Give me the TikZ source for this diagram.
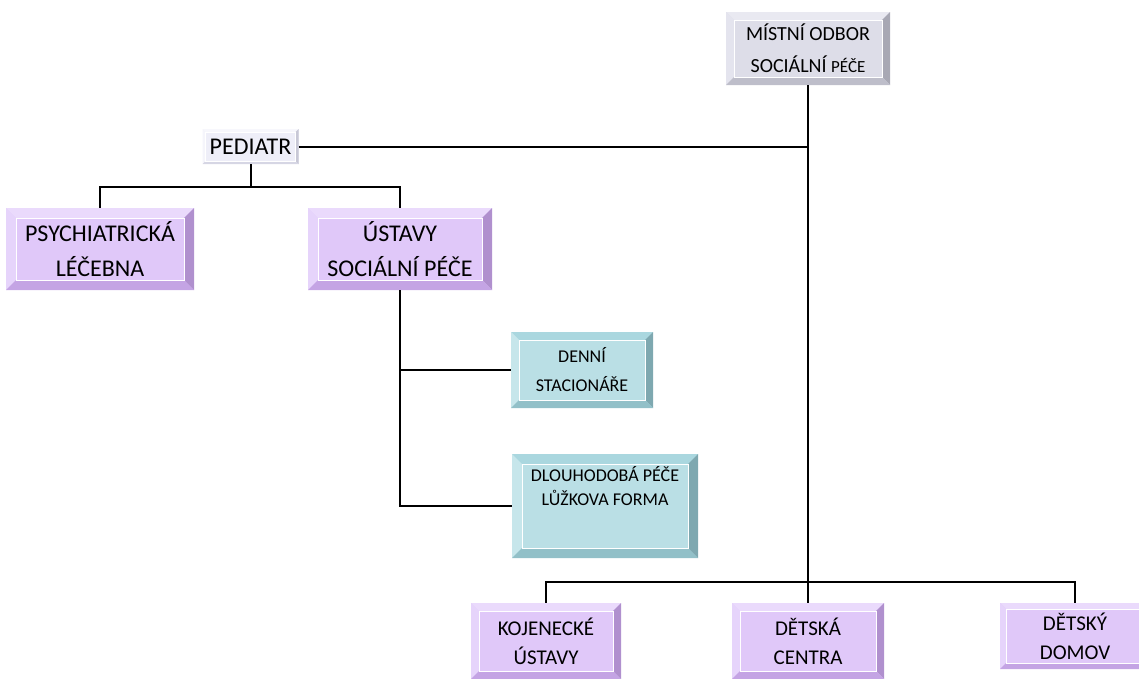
\documentclass[tikz,border=0pt]{standalone}
\usepackage{fontspec}
\setmainfont{Carlito}
\usetikzlibrary{positioning}
\definecolor{lilFace}{RGB}{224,200,249}
\definecolor{lilTop}{RGB}{234,218,252}
\definecolor{lilLeft}{RGB}{230,212,251}
\definecolor{lilRight}{RGB}{176,144,206}
\definecolor{lilBot}{RGB}{196,164,228}
\definecolor{aquaFace}{RGB}{186,223,229}
\definecolor{aquaTop}{RGB}{170,215,223}
\definecolor{aquaLeft}{RGB}{198,230,235}
\definecolor{aquaRight}{RGB}{126,168,176}
\definecolor{aquaBot}{RGB}{146,192,200}
\definecolor{greyFace}{RGB}{221,221,232}
\definecolor{greyTop}{RGB}{233,233,241}
\definecolor{greyLeft}{RGB}{228,228,238}
\definecolor{greyRight}{RGB}{168,168,180}
\definecolor{greyBot}{RGB}{190,190,202}
\definecolor{paleFace}{RGB}{238,238,248}
\definecolor{paleTop}{RGB}{247,247,252}
\definecolor{paleLeft}{RGB}{245,245,251}
\definecolor{paleRight}{RGB}{200,200,214}
\definecolor{paleBot}{RGB}{214,214,228}
\newcommand{\bigtxt}{\fontsize{24}{35}\selectfont}
\newcommand{\midtxt}{\fontsize{20}{32}\selectfont}
\newcommand{\lowtxt}{\fontsize{21}{29}\selectfont}
\newcommand{\smalltxt}{\fontsize{18}{29}\selectfont}
\tikzset{
  bevel width/.store in=\bevw, bevel width=8pt,
  bevel colors/.store in=\bevc, bevel colors=lil,
  bevelbox/.style={rectangle, inner sep=0pt, align=center, fill=#1Face,
    bevel colors=#1,
    path picture={
      \path (path picture bounding box.north west) coordinate (bnw)
            (path picture bounding box.north east) coordinate (bne)
            (path picture bounding box.south east) coordinate (bse)
            (path picture bounding box.south west) coordinate (bsw);
      \path ([shift={(\bevw,-\bevw)}]bnw) coordinate (inw)
            ([shift={(-\bevw,-\bevw)}]bne) coordinate (ine)
            ([shift={(-\bevw,\bevw)}]bse) coordinate (ise)
            ([shift={(\bevw,\bevw)}]bsw) coordinate (isw);
      \fill[fill=\bevc Top] (bnw) -- (bne) -- (ine) -- (inw) -- cycle;
      \fill[fill=\bevc Left] (bnw) -- (inw) -- (isw) -- (bsw) -- cycle;
      \fill[fill=\bevc Right] (bne) -- (bse) -- (ise) -- (ine) -- cycle;
      \fill[fill=\bevc Bot] (bsw) -- (isw) -- (ise) -- (bse) -- cycle;
      \draw[white, line width=0.8pt] (inw) rectangle (ise);
    }},
  link/.style={draw=black, line width=2pt},
}
\begin{document}
\begin{tikzpicture}[x=1pt, y=-1pt]
  \useasboundingbox (0,0) rectangle (1139,678);
  \clip (0,0) rectangle (1139,678);
  % Pediatrician and its branches
  \node[bevelbox=pale, bevel width=3pt, minimum width=96pt, minimum height=35pt,
        font=\bigtxt] (pediatr) at (250.5,146.5) {PEDIATR};
  \node[bevelbox=lil, bevel width=10pt, minimum width=188pt, minimum height=82pt,
        font=\bigtxt] (psych) at (100,249) {PSYCHIATRICKÁ\\LÉČEBNA};
  \node[bevelbox=lil, bevel width=10pt, minimum width=184pt, minimum height=82pt,
        font=\bigtxt] (ustavy) at (400,249) {ÚSTAVY\\SOCIÁLNÍ PÉČE};
  % Head office
  \node[bevelbox=grey, bevel width=8pt, minimum width=164pt, minimum height=73pt,
        font=\midtxt] (mistni) at (808,48.5)
        {MÍSTNÍ ODBOR\\SOCIÁLNÍ {\fontsize{17}{32}\selectfont PÉČE}};
  % Care forms
  \node[bevelbox=aqua, bevel width=8pt, minimum width=142pt, minimum height=76pt,
        font=\smalltxt] (denni) at (582,370) {DENNÍ\\STACIONÁŘE};
  \node[bevelbox=aqua, bevel width=10pt, minimum width=186pt, minimum height=104pt]
        (dlouho) at (605,506) {};
  \node[font=\fontsize{18}{24}\selectfont, align=center, inner sep=0pt,
        below=12pt of dlouho.north] (dlouhotxt) {DLOUHODOBÁ PÉČE\\LŮŽKOVA FORMA};
  % Children's institutions
  \node[bevelbox=lil, bevel width=8pt, minimum width=150pt, minimum height=76pt,
        font=\lowtxt] (kojen) at (546,641) {KOJENECKÉ\\ÚSTAVY};
  \node[bevelbox=lil, bevel width=8pt, minimum width=152pt, minimum height=76pt,
        font=\lowtxt] (centra) at (808,641) {DĚTSKÁ\\CENTRA};
  \node[bevelbox=lil, bevel width=6pt, minimum width=150pt, minimum height=66pt,
        font=\lowtxt] (domov) at (1075,636) {DĚTSKÝ\\DOMOV};
  % Connectors
  \coordinate (pedbus) at (250.5,187);
  \coordinate (kbus) at (808,582);
  \draw[link] (mistni.south) -- (kbus);
  \draw[link] (pediatr.east) -- (pediatr.east -| mistni.south);
  \draw[link] (pediatr.south) -- (pedbus);
  \draw[link] (psych.north) |- (pedbus) -| (ustavy.north);
  \draw[link] (ustavy.south) |- (denni.west);
  \draw[link] (ustavy.south) |- (dlouho.west);
  \draw[link] (kojen.north) |- (kbus) -| (domov.north);
  \draw[link] (centra.north) -- (kbus);
\end{tikzpicture}
\end{document}
